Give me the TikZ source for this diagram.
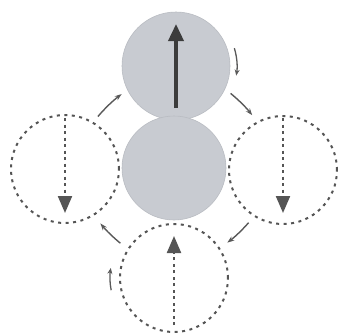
\documentclass[tikz,border=0pt]{standalone}
\usetikzlibrary{arrows.meta}
\definecolor{ballfill}{HTML}{C8CBD1}
\definecolor{ballrim}{HTML}{B9BCC2}
\definecolor{ink}{HTML}{3C3C3C}
\definecolor{dotink}{HTML}{555555}
\tikzset{
  ball/.style={circle,draw=ballrim,line width=0.6pt,fill=ballfill,inner sep=0pt,minimum size=108pt},
  ghost/.style={circle,draw=dotink,line width=2pt,dash pattern=on 3pt off 4.5pt,inner sep=0pt,minimum size=108pt},
  spin/.style={draw=ink,line width=3.6pt,-{Triangle[length=17pt,width=15pt]}},
  dspin/.style={draw=dotink,line width=2.2pt,dash pattern=on 3pt off 3.5pt,-{Triangle[length=17pt,width=14pt]}},
  flow/.style={draw=ink!85,line width=1.4pt,-{Stealth[length=7pt,width=5pt]}},
  rot/.style={draw=ink!85,line width=1.3pt,-{Stealth[length=6pt,width=5pt]}}
}
\begin{document}
\begin{tikzpicture}[x=1pt,y=-1pt]
\useasboundingbox (0,0) rectangle (338,333);
\node[ball] (top) at (176,66) {};
\node[ball,minimum size=104pt] (mid) at (174,168) {};
\node[ghost] (left) at (65,169) {};
\node[ghost] (right) at (283,170) {};
\node[ghost] (bot) at (174,278) {};
% spin arrows
\coordinate (topT) at (176,108);
\coordinate (topH) at (176,24);
\draw[spin] (topT) -- (topH);
\coordinate (leftT) at (65,118);
\coordinate (leftH) at (65,213);
\draw[dspin] (leftT) -- (leftH);
\coordinate (rightT) at (283,118);
\coordinate (rightH) at (283,213);
\draw[dspin] (rightT) -- (rightH);
\coordinate (botT) at (174,325);
\coordinate (botH) at (174,236);
\draw[dspin] (botT) -- (botH);
% circulation arrows
\draw[flow,shorten <=7pt,shorten >=8pt] (top.-25) to[bend left=6] (right.118);
\draw[flow,shorten <=8pt,shorten >=9pt] (right.-122) to[bend left=6] (bot.33);
\draw[flow,shorten <=9pt,shorten >=10pt] (bot.148) to[bend left=6] (left.-58);
\draw[flow,shorten <=7pt,shorten >=7pt] (left.59) to[bend left=6] (top.-154);
% small rotation arrows
\draw[rot] (top) ++(-17:61) arc[start angle=-17,end angle=9,radius=61];
\draw[rot] (bot) ++(169:64) arc[start angle=169,end angle=189,radius=64];
\end{tikzpicture}
\end{document}
